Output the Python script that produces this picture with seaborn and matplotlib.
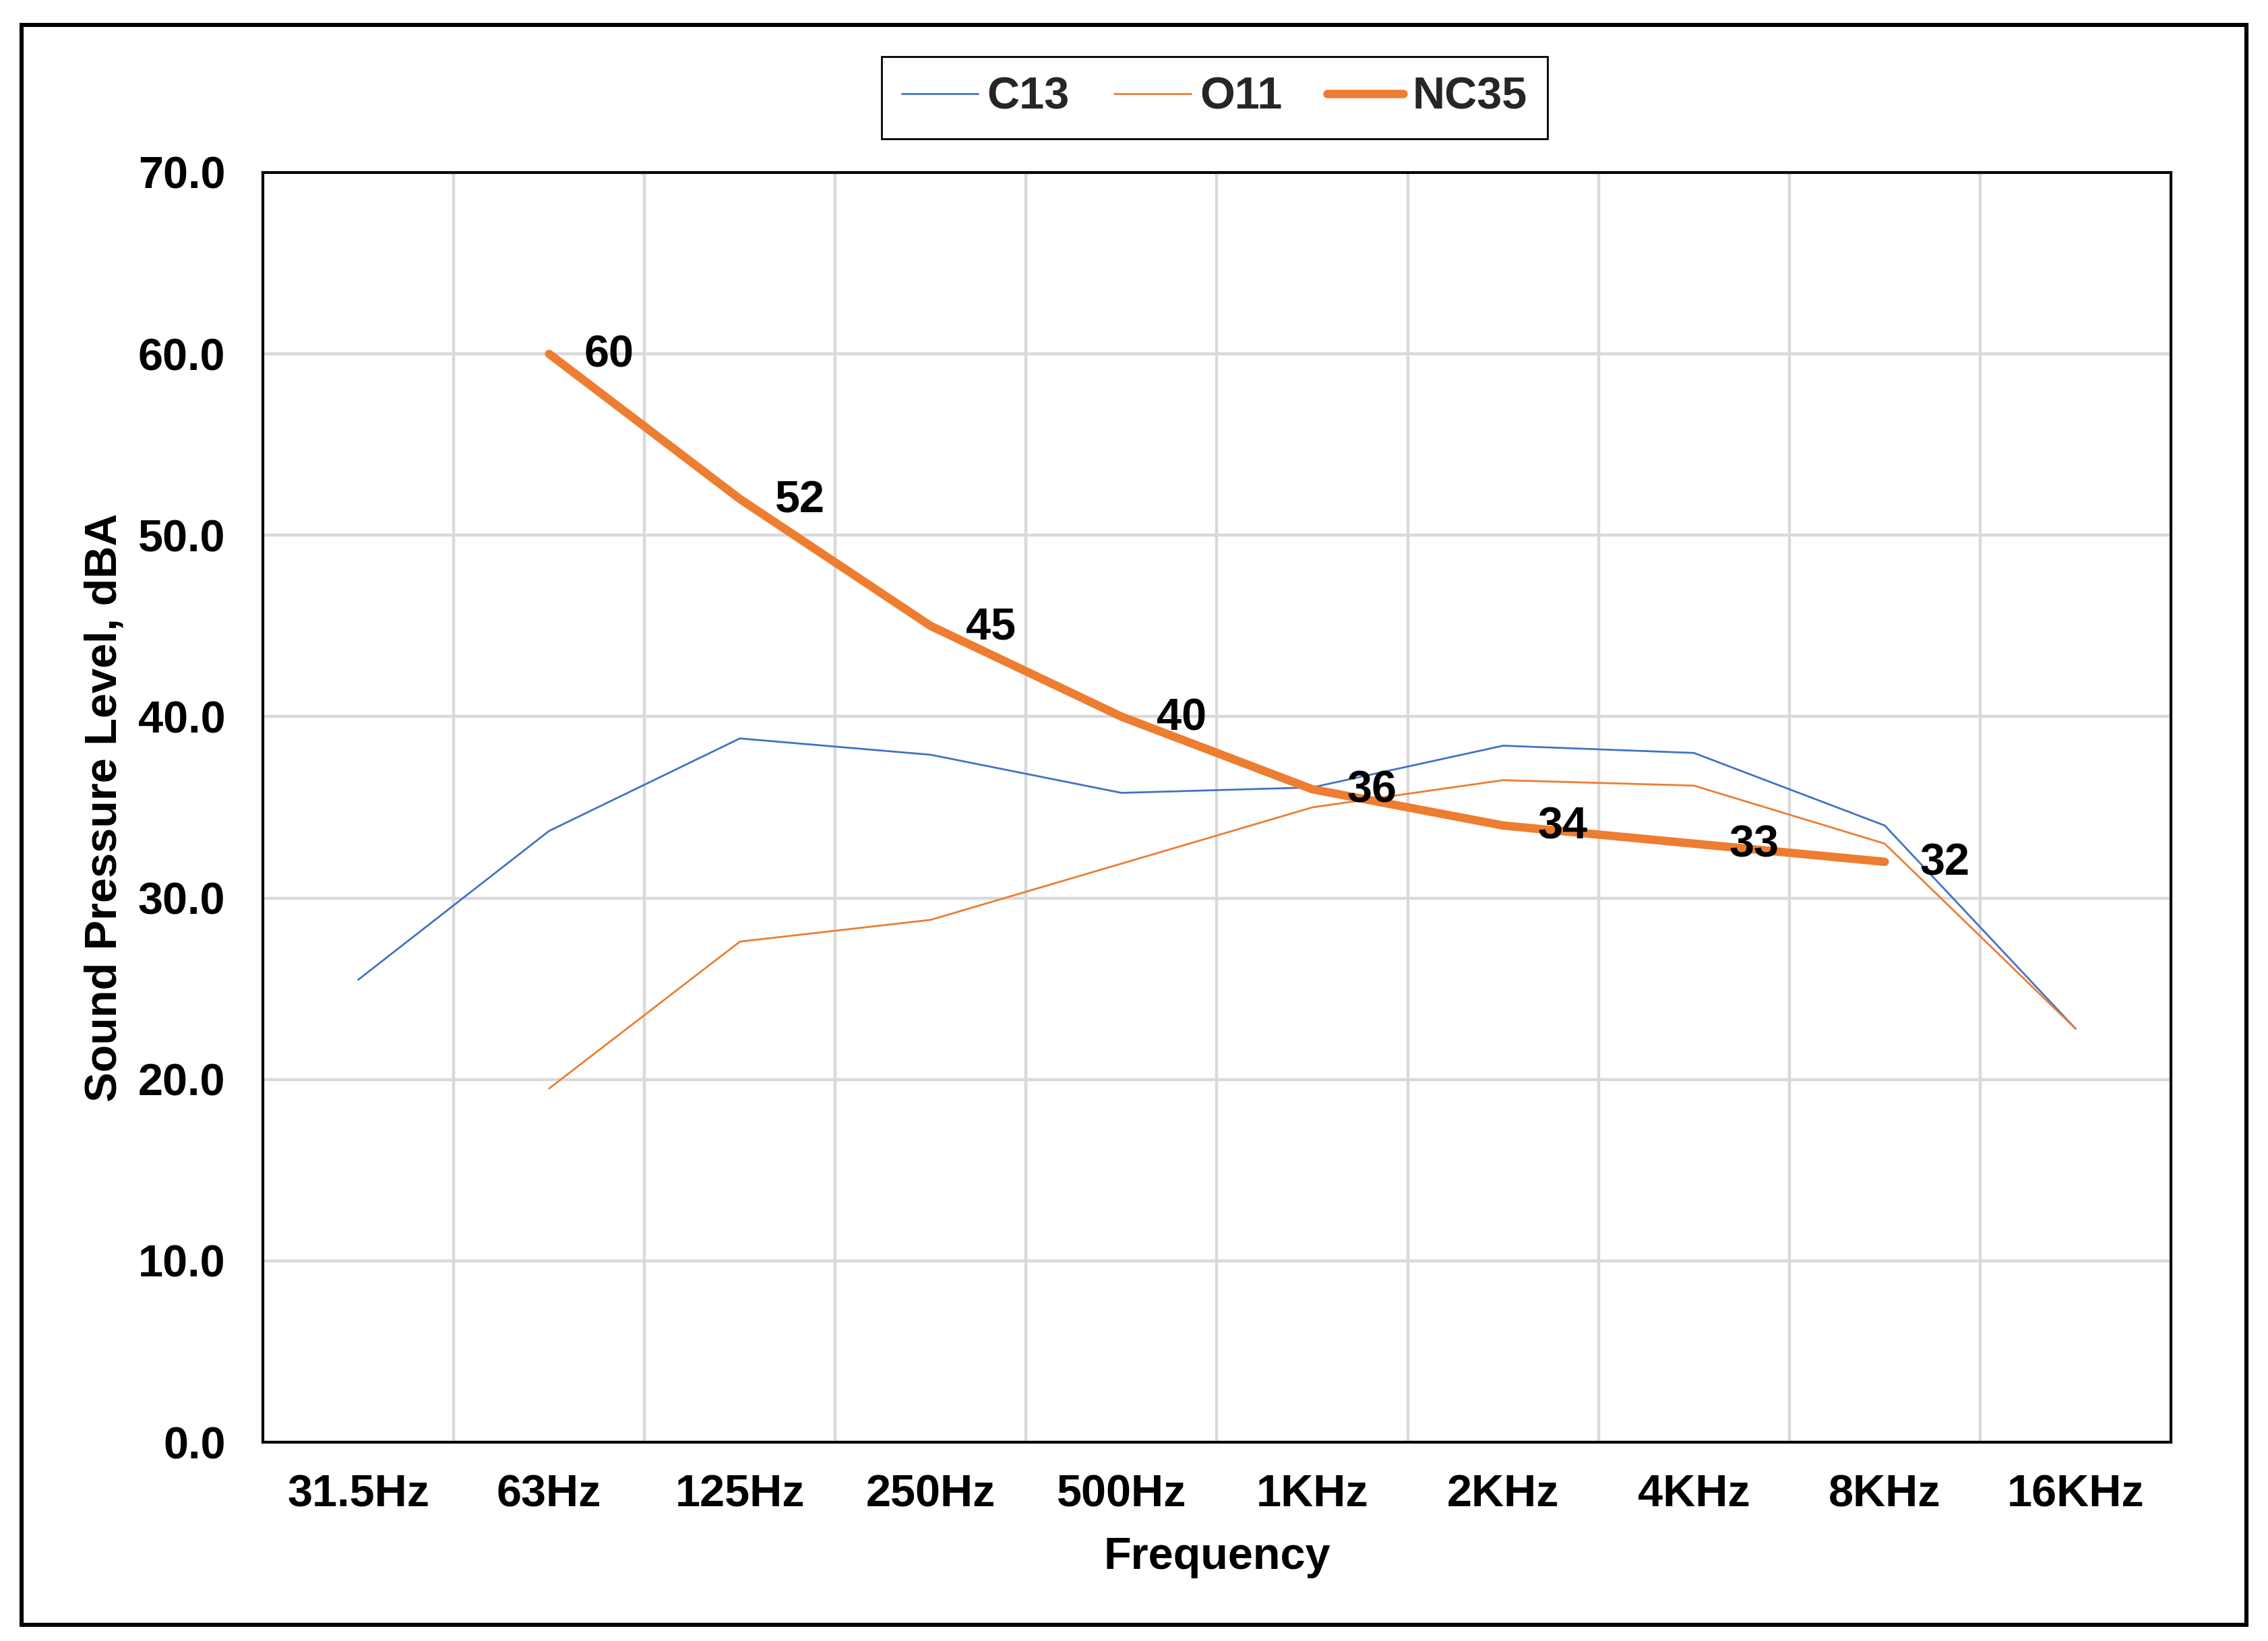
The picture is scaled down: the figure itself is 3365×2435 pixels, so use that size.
import numpy as np
import pandas as pd
import seaborn as sns
from matplotlib import pyplot as plt
from matplotlib.patches import Rectangle
from matplotlib.lines import Line2D

# values
freqs = ['31.5Hz', '63Hz', '125Hz', '250Hz', '500Hz', '1KHz', '2KHz', '4KHz', '8KHz', '16KHz']
c13 = [25.5, 33.7, 38.8, 37.9, 35.8, 36.1, 38.4, 38.0, 34.0, 22.8]
o11 = [np.nan, 19.5, 27.6, 28.8, 31.9, 35.0, 36.5, 36.2, 33.0, 22.8]
nc35 = [np.nan, 60, 52, 45, 40, 36, 34, 33, 32, np.nan]
y_ticks = [0, 10, 20, 30, 40, 50, 60, 70]

blue = '#4472C4'
orange = '#ED7D31'
grid_grey = '#D9D9D9'

sns.set_theme(style='whitegrid')
plt.rcParams['font.family'] = ['Liberation Sans', 'DejaVu Sans']
plt.rcParams['font.weight'] = 'bold'
plt.rcParams['axes.labelweight'] = 'bold'

df = pd.DataFrame({'freq': freqs, 'C13': c13, 'O11': o11, 'NC35': nc35})
df['pos'] = np.arange(len(freqs))

fig = plt.figure(figsize=(16.825, 12.175), dpi=200)
ax = fig.add_axes([0.1159, 0.1211, 0.8413, 0.7738])

sns.lineplot(data=df, x='pos', y='C13', color=blue, linewidth=1.0, ax=ax, legend=False)
sns.lineplot(data=df, x='pos', y='O11', color=orange, linewidth=1.0, ax=ax, legend=False)
sns.lineplot(data=df, x='pos', y='NC35', color=orange, linewidth=4.5, ax=ax, legend=False,
             solid_capstyle='round', solid_joinstyle='round')

# data labels on NC35
for x, v in zip(df['pos'], df['NC35']):
    if np.isnan(v):
        continue
    ax.annotate(f'{v:.0f}', (x, v), xytext=(32, -1), textcoords='offset points',
                ha='center', va='center', fontsize=24, fontweight='bold', color='black')

ax.set_xlim(-0.5, len(freqs) - 0.5)
ax.set_ylim(0, 70)
ax.set_xticks(df['pos'])
ax.set_xticklabels(freqs)
ax.set_xticks(np.arange(0.5, len(freqs) - 1, 1), minor=True)
ax.set_yticks(y_ticks)
ax.set_yticklabels([f'{t:.1f}' for t in y_ticks])
ax.tick_params(which='both', length=0, labelsize=24, colors='black')
ax.tick_params(axis='x', pad=17)
ax.tick_params(axis='y', pad=20)

ax.grid(False)
ax.grid(which='minor', axis='x', color=grid_grey, linewidth=1.6)
ax.grid(which='major', axis='y', color=grid_grey, linewidth=1.6)
ax.set_axisbelow(True)
for s in ax.spines.values():
    s.set_color('black')
    s.set_linewidth(1.5)

ax.set_xlabel('Frequency', fontsize=24, color='black')
ax.set_ylabel('Sound Pressure Level, dBA', fontsize=24, color='black')
ax.xaxis.set_label_coords(0.5, -0.074)
ax.yaxis.set_label_coords(-0.072, 0.5)

handles = [Line2D([], [], color=blue, linewidth=1.0),
           Line2D([], [], color=orange, linewidth=1.0),
           Line2D([], [], color=orange, linewidth=4.5, solid_capstyle='round')]
leg = fig.legend(handles, ['C13', 'O11', 'NC35'], loc='center', bbox_to_anchor=(0.5355, 0.9405),
                 ncol=3, frameon=True, fancybox=False, edgecolor='black', framealpha=1,
                 fontsize=24, handlelength=1.7, handletextpad=0.2, columnspacing=1.0,
                 borderpad=0.45)
leg.get_frame().set_linewidth(1.0)

# outer chart border
fig.patches.append(Rectangle((0.0095, 0.0099), 0.981, 0.975, transform=fig.transFigure,
                             fill=False, edgecolor='black', linewidth=2.2))

fig.savefig('out.png', dpi=200)
